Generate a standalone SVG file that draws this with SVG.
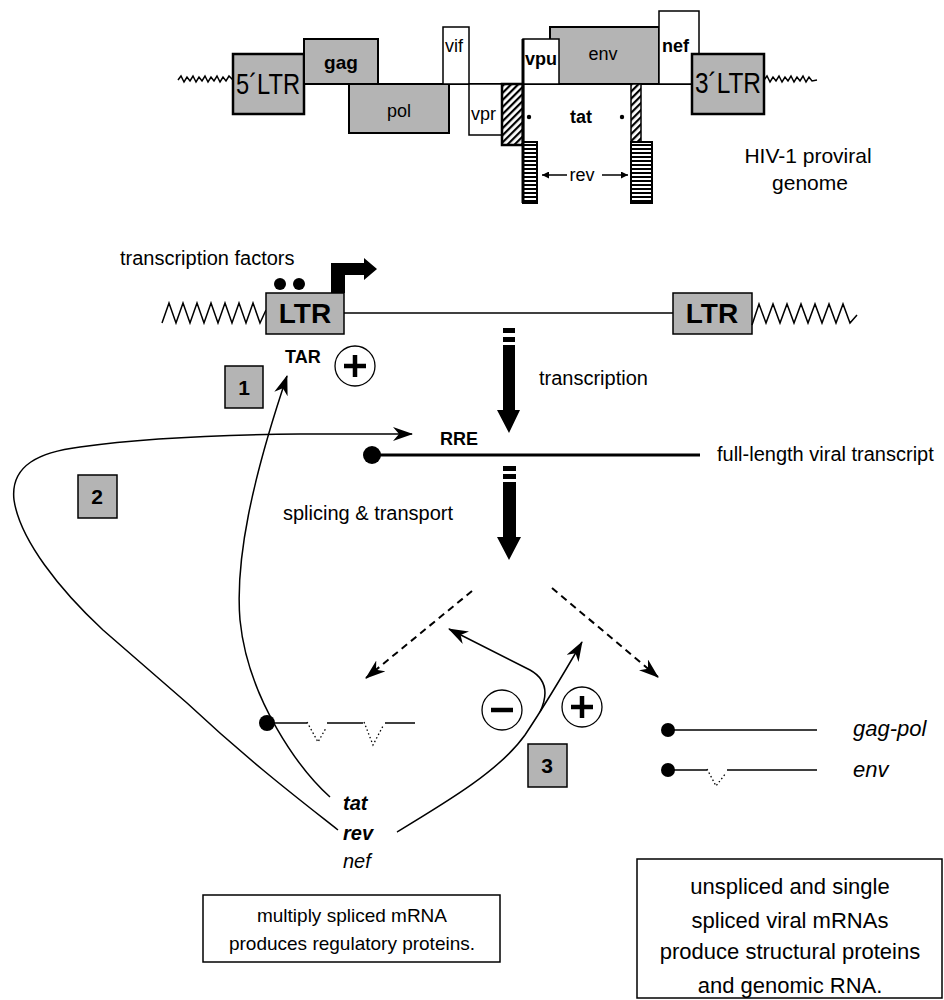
<svg xmlns="http://www.w3.org/2000/svg" width="944" height="1000" viewBox="0 0 944 1000">
<style>
text{font-family:"Liberation Sans",Arial,sans-serif;fill:#000}
.g{fill:#b4b4b4;stroke:#000;stroke-width:2}
.gt{fill:#b4b4b4;stroke:#000;stroke-width:2.5}
.w{fill:#fff;stroke:#000;stroke-width:1.5}
.ln{fill:none;stroke:#000;stroke-width:1.5}
.cv{fill:none;stroke:#000;stroke-width:1.5;marker-end:url(#barb)}
.ds{fill:none;stroke:#000;stroke-width:2;stroke-dasharray:7 5;marker-end:url(#barb)}
.dot{fill:none;stroke:#000;stroke-width:1.3;stroke-dasharray:1.5 2.5}
.sign{fill:#fff;stroke:#000;stroke-width:1.3}
.lab{font-size:18px}
.big{font-size:20px}
.box{fill:#b4b4b4;stroke:#000;stroke-width:1.5}
.num{font-size:21px;font-weight:bold;text-anchor:middle}
</style>
<defs>
<marker id="barb" viewBox="0 0 20 14" refX="19" refY="7" markerWidth="20" markerHeight="14" markerUnits="userSpaceOnUse" orient="auto">
<path d="M0,0 L20,7 L0,14 L6,7 z" fill="#000"/>
</marker>
<marker id="sm" viewBox="0 0 8 8" refX="8" refY="4" markerWidth="8" markerHeight="7" markerUnits="userSpaceOnUse" orient="auto">
<path d="M0,0 L8,4 L0,8 z" fill="#000"/>
</marker>
<pattern id="hatch" width="5" height="5" patternUnits="userSpaceOnUse" patternTransform="rotate(45)">
<rect width="5" height="5" fill="#fff"/>
<rect width="2.2" height="5" fill="#000"/>
</pattern>
<pattern id="stripes" width="4" height="4" patternUnits="userSpaceOnUse">
<rect width="4" height="4" fill="#fff"/>
<rect width="4" height="2" fill="#000"/>
</pattern>
</defs>

<g id="genome">
<polyline class="ln" stroke-width="1.2" points="178,80 181,76 184,82 187,77 190,81 193,76 196,82 199,77 202,81 205,76 208,82 211,77 214,81 217,76 220,82 223,77 226,81 229,76 233,80"/>
<polyline class="ln" stroke-width="1.2" points="764,80 767,76 770,82 773,77 776,81 779,76 782,82 785,77 788,81 791,76 794,82 797,77 800,81 803,76 806,82 809,77 812,81 817,80"/>
<line x1="304" y1="84" x2="692" y2="84" stroke="#000" stroke-width="2"/>
<rect class="gt" x="233" y="54" width="71" height="60"/>
<text x="268" y="94" font-size="29" text-anchor="middle" textLength="64" lengthAdjust="spacingAndGlyphs">5´LTR</text>
<rect class="g" x="304" y="39" width="74" height="45"/>
<text x="341" y="69" font-size="19" font-weight="bold" text-anchor="middle">gag</text>
<rect class="g" x="349" y="84" width="100" height="49"/>
<text x="399" y="117" class="lab" text-anchor="middle">pol</text>
<rect class="w" x="443" y="27" width="26" height="57"/>
<text x="445" y="52" class="lab">vif</text>
<rect class="w" x="469" y="84" width="33" height="51"/>
<text x="471" y="120" class="lab">vpr</text>
<rect x="502" y="84" width="21" height="61" fill="url(#hatch)" stroke="#000" stroke-width="2.5"/>
<rect class="g" x="550" y="27" width="109" height="57"/>
<text x="603" y="60" class="lab" text-anchor="middle">env</text>
<rect class="w" x="523" y="39" width="36" height="45"/>
<text x="525" y="65" class="lab" font-weight="bold">vpu</text>
<rect class="w" x="659" y="11" width="40" height="73"/>
<text x="662" y="52" class="lab" font-weight="bold">nef</text>
<rect class="gt" x="692" y="54" width="72" height="60"/>
<text x="728" y="93" font-size="29" text-anchor="middle" textLength="66" lengthAdjust="spacingAndGlyphs">3´LTR</text>
<rect x="631" y="84" width="10" height="58" fill="url(#hatch)" stroke="#000" stroke-width="1.5"/>
<rect x="523" y="142" width="14" height="61" fill="url(#stripes)" stroke="#000" stroke-width="2"/>
<rect x="631" y="142" width="21" height="61" fill="url(#stripes)" stroke="#000" stroke-width="2"/>
<line x1="523" y1="39" x2="523" y2="203" stroke="#000" stroke-width="3"/>
<circle cx="529" cy="117" r="2.2"/>
<circle cx="622" cy="117" r="2.2"/>
<text x="581" y="123" class="lab" font-weight="bold" text-anchor="middle">tat</text>
<line x1="567" y1="175" x2="542" y2="175" stroke="#000" stroke-width="1.5" marker-end="url(#sm)"/>
<text x="582" y="181" class="lab" text-anchor="middle">rev</text>
<line x1="602" y1="175" x2="628" y2="175" stroke="#000" stroke-width="1.5" marker-end="url(#sm)"/>
<text x="808" y="163" font-size="21" text-anchor="middle">HIV-1 proviral</text>
<text x="810" y="190" font-size="21" text-anchor="middle">genome</text>
</g>

<g id="provirus">
<text x="120" y="265" class="big">transcription factors</text>
<circle cx="280" cy="284" r="6"/>
<circle cx="299" cy="284" r="6"/>
<path d="M331 293 L331 263 L364 263 L364 258 L377 269 L364 280 L364 275 L345 275 L345 293 Z" fill="#000"/>
<polyline class="ln" points="162,323 169,303 176,323 183,303 190,323 197,303 204,323 211,303 218,323 225,303 232,323 239,303 246,323 253,303 260,323 266,310"/>
<line x1="344" y1="313" x2="673" y2="313" stroke="#000" stroke-width="1.5"/>
<rect class="box" x="266" y="293" width="78" height="41"/>
<text x="305" y="323" font-size="28" font-weight="bold" text-anchor="middle">LTR</text>
<rect class="box" x="673" y="293" width="79" height="41"/>
<text x="712" y="323" font-size="28" font-weight="bold" text-anchor="middle">LTR</text>
<polyline class="ln" points="752,325 759,304 766,323 773,304 780,323 787,304 794,323 801,304 808,323 815,304 822,323 829,304 836,323 843,304 850,323 857,315"/>
</g>

<g id="transcription">
<rect x="503" y="328" width="12" height="5"/>
<rect x="503" y="337" width="12" height="5"/>
<path d="M503 345 L515 345 L515 410 L520 410 L509 433 L497 410 L503 410 Z"/>
<text x="539" y="385" class="big">transcription</text>
</g>

<g id="tar">
<text x="285" y="363" font-size="18" font-weight="bold">TAR</text>
<circle class="sign" cx="355" cy="366" r="20"/>
<path d="M355 355 V377 M344 366 H366" stroke="#000" stroke-width="4.5"/>
</g>

<g id="box1"><rect class="box" x="225" y="366" width="38" height="42"/><text x="244" y="395" class="num">1</text></g>
<g id="box2"><rect class="box" x="78" y="475" width="39" height="43"/><text x="97" y="504" class="num">2</text></g>
<g id="box3"><rect class="box" x="528" y="744" width="39" height="43"/><text x="547" y="773" class="num">3</text></g>

<g id="transcript">
<text x="440" y="445" font-size="18" font-weight="bold">RRE</text>
<circle cx="372" cy="455" r="9"/>
<line x1="372" y1="455" x2="700" y2="455" stroke="#000" stroke-width="3"/>
<text x="717" y="461" class="big">full-length viral transcript</text>
</g>

<g id="splicing">
<rect x="503" y="466" width="13" height="5"/>
<rect x="503" y="474" width="13" height="5"/>
<path d="M503 482 L516 482 L516 537 L521 537 L509 560 L497 537 L503 537 Z"/>
<text x="283" y="520" class="big">splicing &amp; transport</text>
</g>

<g id="multiply-spliced">
<circle cx="267" cy="723" r="8"/>
<path d="M267 723 H307 M327 723 H363 M385 723 H415" class="ln"/>
<polyline class="dot" points="307,722 318,742 326,728"/>
<polyline class="dot" points="364,722 373,745 383,726"/>
</g>

<g id="signs">
<circle class="sign" cx="502" cy="710" r="20"/>
<path d="M491 710 H513" stroke="#000" stroke-width="4.5"/>
<circle class="sign" cx="582" cy="707" r="20"/>
<path d="M582 696 V718 M571 707 H593" stroke="#000" stroke-width="4.5"/>
</g>

<g id="singly-spliced">
<circle cx="668" cy="730" r="7"/>
<line x1="668" y1="730" x2="817" y2="730" class="ln"/>
<text x="853" y="736" font-size="22" font-style="italic">gag-pol</text>
<circle cx="668" cy="770" r="7"/>
<path d="M668 770 H707 M727 770 H817" class="ln"/>
<polyline class="dot" points="707,769 716,786 726,773"/>
<text x="853" y="777" font-size="22" font-style="italic">env</text>
</g>

<g id="proteins">
<text x="343" y="810" font-size="20" font-weight="bold" font-style="italic">tat</text>
<text x="343" y="840" font-size="20" font-weight="bold" font-style="italic">rev</text>
<text x="343" y="868" font-size="20" font-style="italic">nef</text>
</g>

<g id="note-left">
<rect x="203" y="895" width="297" height="67" fill="#fff" stroke="#000" stroke-width="1.5"/>
<text x="352" y="922" font-size="19" text-anchor="middle">multiply spliced mRNA</text>
<text x="352" y="950" font-size="19" text-anchor="middle">produces regulatory proteins.</text>
</g>

<g id="note-right">
<rect x="637" y="859" width="305" height="139" fill="#fff" stroke="#000" stroke-width="1.5"/>
<text x="790" y="894" font-size="22" text-anchor="middle">unspliced and single</text>
<text x="790" y="928" font-size="22" text-anchor="middle">spliced viral mRNAs</text>
<text x="790" y="959" font-size="22" text-anchor="middle">produce structural proteins</text>
<text x="790" y="993" font-size="22" text-anchor="middle">and genomic RNA.</text>
</g>

<g id="connectors">
<path class="cv" d="M330 797 C300 770 248 700 240 620 C235 560 252 480 287 376"/>
<path class="cv" d="M338 830 C300 800 250 762 187 703 L103 630 C60 590 20 540 14 500 C10 465 40 452 80 447 C130 440 200 435 300 434 L412 434"/>
<path class="cv" d="M397 832 C450 800 500 770 525 735 C545 705 560 680 582 642"/>
<path class="cv" d="M540 712 C548 695 548 680 530 670 C510 660 490 650 449 629"/>
<path class="ds" d="M472 591 L366 678"/>
<path class="ds" d="M552 588 L658 677"/>
</g>
</svg>
